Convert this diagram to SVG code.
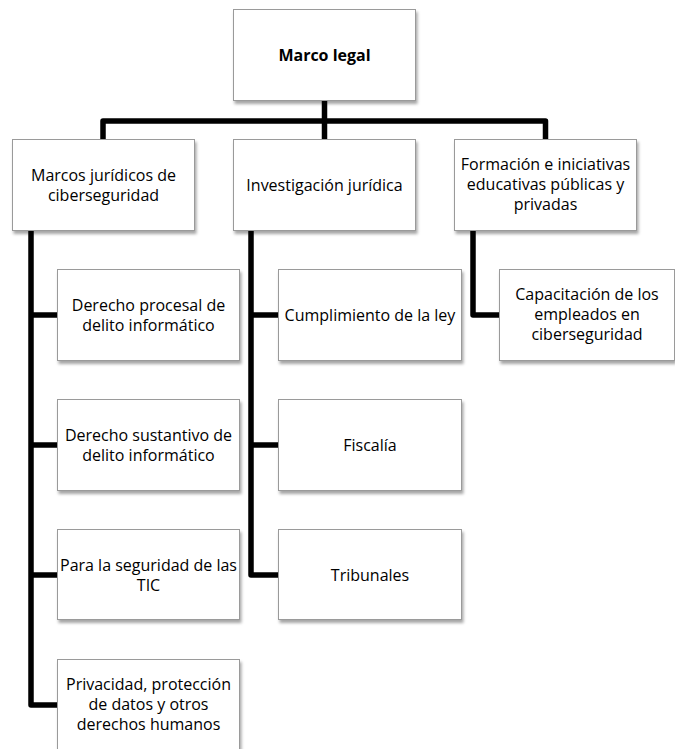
<svg xmlns="http://www.w3.org/2000/svg" width="675" height="749" viewBox="0 0 675 749">
<defs>
<filter id="sh" x="-10%" y="-10%" width="125%" height="130%">
<feDropShadow dx="1.5" dy="3" stdDeviation="1.6" flood-color="#000" flood-opacity="0.35"/>
</filter>
<style>
.box{fill:#fff;stroke:#9a9a9a;stroke-width:1;filter:url(#sh)}
.t{font-family:"Open Sans","Noto Sans","Liberation Sans",sans-serif;font-size:16px;fill:#000;text-anchor:middle}
.b{font-weight:bold}
.c{fill:none;stroke:#000;stroke-width:5.5;stroke-linejoin:round;stroke-linecap:butt}
</style>
</defs>
<rect width="675" height="749" fill="#fff"/>
<g id="connectors">
<path class="c" d="M324.5,101 V121"/>
<path class="c" d="M103,139 V121 H545.5 V139"/>
<path class="c" d="M324.5,121 V139"/>
<path class="c" d="M31,231 V705 H57"/>
<path class="c" d="M31,315 H57 M31,445 H57 M31,575 H57"/>
<path class="c" d="M251,231 V575 H278"/>
<path class="c" d="M251,315 H278 M251,445 H278"/>
<path class="c" d="M473,231 V315 H499"/>
</g>
<g id="n-marco-legal">
<rect class="box" x="233.5" y="9.5" width="182" height="91"/>
<text class="t b" x="324.5" y="61">Marco legal</text>
</g>
<g id="n-marcos-juridicos">
<rect class="box" x="12.5" y="139.5" width="182" height="91"/>
<text class="t" x="103.5" y="181">Marcos jurídicos de</text>
<text class="t" x="103.5" y="201">ciberseguridad</text>
</g>
<g id="n-investigacion">
<rect class="box" x="233.5" y="139.5" width="182" height="91"/>
<text class="t" x="324.5" y="191">Investigación jurídica</text>
</g>
<g id="n-formacion">
<rect class="box" x="454.5" y="139.5" width="182" height="91"/>
<text class="t" x="545.5" y="170">Formación e iniciativas</text>
<text class="t" x="545.5" y="190">educativas públicas y</text>
<text class="t" x="545.5" y="210">privadas</text>
</g>
<g id="n-procesal">
<rect class="box" x="57.5" y="269.5" width="182" height="91"/>
<text class="t" x="148.5" y="311">Derecho procesal de</text>
<text class="t" x="148.5" y="331">delito informático</text>
</g>
<g id="n-sustantivo">
<rect class="box" x="57.5" y="399.5" width="182" height="91"/>
<text class="t" x="148.5" y="441">Derecho sustantivo de</text>
<text class="t" x="148.5" y="461">delito informático</text>
</g>
<g id="n-tic">
<rect class="box" x="57.5" y="529.5" width="182" height="90"/>
<text class="t" x="148.5" y="571">Para la seguridad de las</text>
<text class="t" x="148.5" y="591">TIC</text>
</g>
<g id="n-privacidad">
<rect class="box" x="57.5" y="659.5" width="182" height="91"/>
<text class="t" x="148.5" y="690">Privacidad, protección</text>
<text class="t" x="148.5" y="710">de datos y otros</text>
<text class="t" x="148.5" y="730">derechos humanos</text>
</g>
<g id="n-cumplimiento">
<rect class="box" x="278.5" y="269.5" width="183" height="91"/>
<text class="t" x="370" y="321">Cumplimiento de la ley</text>
</g>
<g id="n-fiscalia">
<rect class="box" x="278.5" y="399.5" width="183" height="91"/>
<text class="t" x="370" y="451">Fiscalía</text>
</g>
<g id="n-tribunales">
<rect class="box" x="278.5" y="529.5" width="183" height="90"/>
<text class="t" x="370" y="581">Tribunales</text>
</g>
<g id="n-capacitacion">
<rect class="box" x="499.5" y="269.5" width="175" height="91"/>
<text class="t" x="587" y="300">Capacitación de los</text>
<text class="t" x="587" y="320">empleados en</text>
<text class="t" x="587" y="340">ciberseguridad</text>
</g>
</svg>
